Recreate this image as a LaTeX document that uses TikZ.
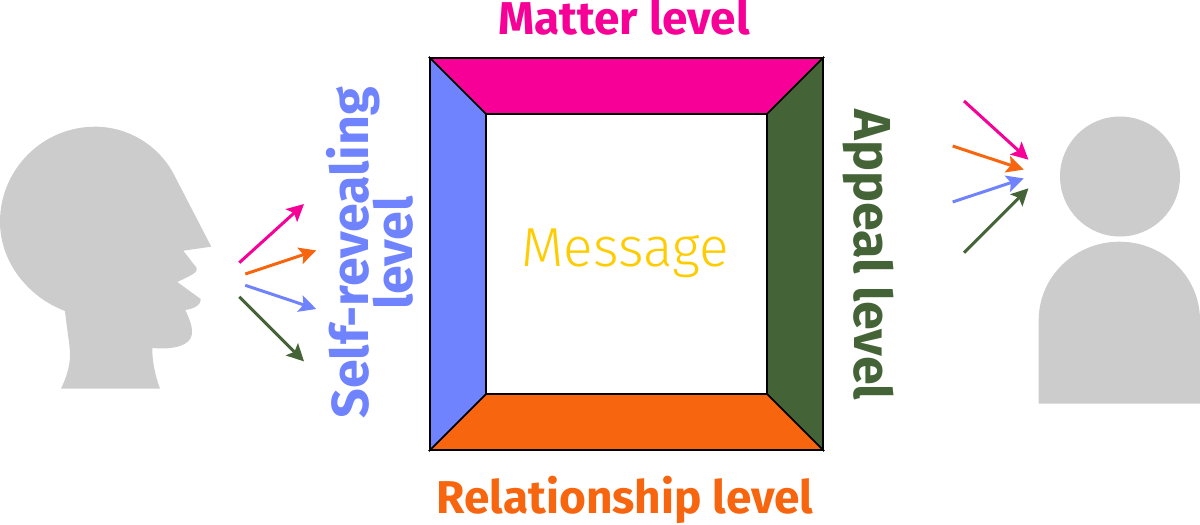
\documentclass[tikz,border=0pt]{standalone}
\usepackage{fontspec}
\setmainfont{Fira Sans}
\newfontfamily\lightface{Fira Sans Light}
\usetikzlibrary{arrows.meta}
\definecolor{matterc}{HTML}{F70097}
\definecolor{selfc}{HTML}{7083FF}
\definecolor{appealc}{HTML}{446437}
\definecolor{relc}{HTML}{F7650E}
\definecolor{msgc}{HTML}{FFCC00}
\definecolor{figc}{HTML}{CCCCCC}
\tikzset{
  facet/.style={draw=black,line width=1.6pt,line join=miter},
  figure/.style={fill=figc,draw=none},
  ray/.style={line width=3pt,-{Stealth[length=17pt,width=17pt,inset=3.5pt]},shorten >=-1pt},
  level/.style={font=\bfseries\fontsize{46}{46}\selectfont,align=center,inner sep=0pt},
  sidelevel/.style={font=\bfseries\fontsize{52}{38}\selectfont,align=center,inner sep=0pt},
}
\begin{document}
\begin{tikzpicture}[x=1pt,y=-1pt]
\useasboundingbox (0,0) rectangle (1200,525);

% speaking head in profile
\fill[figure] (61,388.7) -- (160,388.7)
  .. controls (155,375) and (152,360) .. (152.3,348)
  .. controls (175,350) and (190,345) .. (191.7,335)
  .. controls (193,328) and (190,320) .. (185.3,310)
  .. controls (192,309) and (201,306) .. (200.7,299)
  -- (177.3,282)
  .. controls (190,276) and (199,272) .. (196.7,268)
  -- (183.3,250.7) -- (211.3,246.7) -- (173.3,173.3)
  .. controls (158,145) and (128,126.7) .. (95,126.7)
  .. controls (42,126.7) and (0,170) .. (0,221.7)
  .. controls (0,262) and (28,297) .. (65,311)
  .. controls (67,330) and (70,345) .. (70,355)
  .. controls (70,367) and (66,378) .. (61,388.7) -- cycle;

% listening person
\fill[figure] (1120,176.5) circle[radius=60];
\fill[figure] (1038.7,403.7) -- (1038.7,320)
  .. controls (1038.7,276.8) and (1074.8,241.7) .. (1119.35,241.7)
  .. controls (1163.9,241.7) and (1200,276.8) .. (1200,320)
  -- (1200,403.7) -- cycle;

% four-sided frame of the message
\coordinate (oa) at (430,58);
\coordinate (ob) at (823,58);
\coordinate (oc) at (823,450);
\coordinate (od) at (430,450);
\coordinate (ia) at (486,114);
\coordinate (ib) at (767,114);
\coordinate (ic) at (767,394);
\coordinate (id) at (486,394);
\fill[white] (ia) rectangle (ic);
\draw[facet,fill=matterc] (oa) -- (ob) -- (ib) -- (ia) -- cycle;
\draw[facet,fill=appealc] (ob) -- (oc) -- (ic) -- (ib) -- cycle;
\draw[facet,fill=relc] (oc) -- (od) -- (id) -- (ic) -- cycle;
\draw[facet,fill=selfc] (od) -- (oa) -- (ia) -- (id) -- cycle;

% labels
\node[level,text=matterc] (matter) at (624,17) {Matter level};
\node[level,text=relc] (relation) at (625,500) {Relationship level};
\node[sidelevel,text=selfc,rotate=90] (self) at (370,253) {Self-revealing\\[-8pt]level};
\node[sidelevel,text=appealc,rotate=-90] (appeal) at (868,255) {Appeal level};
\node[text=msgc,inner sep=0pt,font=\lightface\fontsize{55}{55}\selectfont] (message) at (625,253) {Message};

% rays leaving the speaker
\coordinate (s1) at (239.3,262.7); \coordinate (e1) at (303.3,204.7);
\coordinate (s2) at (245.3,274);   \coordinate (e2) at (315.3,250.7);
\coordinate (s3) at (245.3,285.3); \coordinate (e3) at (315.3,308.7);
\coordinate (s4) at (239.3,296.7); \coordinate (e4) at (303.3,360.7);
\draw[ray,matterc] (s1) -- (e1);
\draw[ray,relc] (s2) -- (e2);
\draw[ray,selfc] (s3) -- (e3);
\draw[ray,appealc] (s4) -- (e4);

% rays reaching the listener
\coordinate (r1) at (964,101);     \coordinate (t1) at (1027.7,159);
\coordinate (r2) at (952.7,146);   \coordinate (t2) at (1022.7,169.3);
\coordinate (r3) at (952.7,202);   \coordinate (t3) at (1022.7,178.7);
\coordinate (r4) at (964,252.7);   \coordinate (t4) at (1027.7,189);
\draw[ray,matterc] (r1) -- (t1);
\draw[ray,relc] (r2) -- (t2);
\draw[ray,selfc] (r3) -- (t3);
\draw[ray,appealc] (r4) -- (t4);
\end{tikzpicture}
\end{document}
